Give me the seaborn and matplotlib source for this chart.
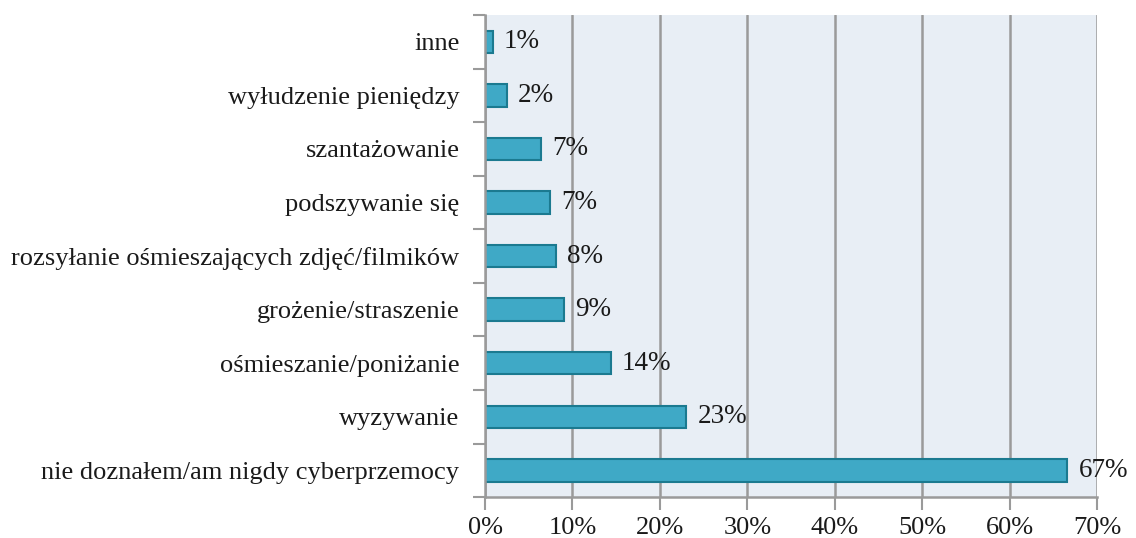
import matplotlib.pyplot as plt
from matplotlib.ticker import FixedLocator, PercentFormatter
import pandas as pd
import seaborn as sns

# Data (share of respondents, %)
categories = ['inne', 'wyłudzenie pieniędzy', 'szantażowanie', 'podszywanie się',
              'rozsyłanie ośmieszających zdjęć/filmików', 'grożenie/straszenie',
              'ośmieszanie/poniżanie', 'wyzywanie', 'nie doznałem/am nigdy cyberprzemocy']
values = [0.9, 2.5, 6.4, 7.4, 8.1, 9.0, 14.4, 23.0, 66.6]
labels = ['1%', '2%', '7%', '7%', '8%', '9%', '14%', '23%', '67%']

df = pd.DataFrame({'category': categories, 'value': values})

sns.set_style('white')
plt.rcParams['font.family'] = ['Liberation Serif', 'DejaVu Serif']

fig, ax = plt.subplots(figsize=(11.36, 5.38), dpi=100)
fig.subplots_adjust(left=0.427, right=0.9657, top=0.972, bottom=0.076)

sns.barplot(data=df, x='value', y='category', orient='h', color='#3fa9c6',
            edgecolor='#1b7a90', linewidth=1.5, width=0.42, saturation=1, ax=ax)

ax.set_facecolor('#e8eef5')
ax.set_xlim(0, 70)
ax.set_ylim(len(categories) - 0.5, -0.5)
ax.set_xticks(range(0, 71, 10))
ax.xaxis.set_major_formatter(PercentFormatter(decimals=0))
ax.grid(axis='x', color='#9a9a9a', linewidth=1.8)
ax.set_axisbelow(True)

# y ticks sit between the categories
ax.yaxis.set_minor_locator(FixedLocator([i - 0.5 for i in range(len(categories) + 1)]))
ax.tick_params(axis='y', which='major', length=0, pad=18.5, labelsize=19, labelcolor='#1a1a1a')
ax.tick_params(axis='y', which='minor', length=9, width=1.5, color='#9a9a9a', left=True)
ax.tick_params(axis='x', length=9, width=1.5, color='#9a9a9a', labelsize=19,
               labelcolor='#1a1a1a', pad=5, bottom=True)

for side in ['top', 'right']:
    ax.spines[side].set_visible(False)
for side in ['left', 'bottom']:
    ax.spines[side].set_color('#9a9a9a')
    ax.spines[side].set_linewidth(1.8)

ax.set_xlabel('')
ax.set_ylabel('')

for i, (v, lab) in enumerate(zip(values, labels)):
    ax.annotate(lab, (v, i), xytext=(8, 0), textcoords='offset points',
                va='center', ha='left', fontsize=19.5, color='#1a1a1a',
                annotation_clip=False)

fig.savefig('out.png', dpi=100)
